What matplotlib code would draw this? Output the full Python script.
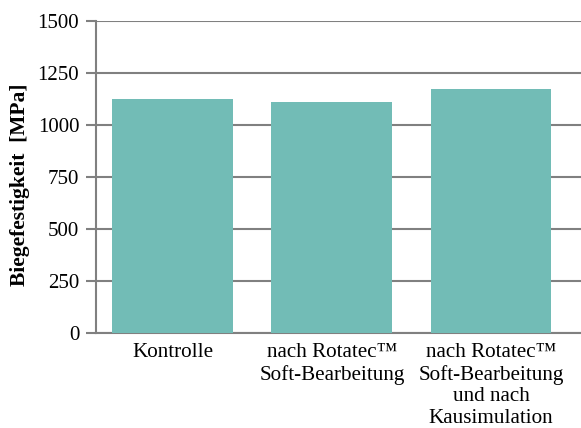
import matplotlib
matplotlib.use("Agg")
import matplotlib.pyplot as plt

categories = ["Kontrolle", "nach Rotatec\u2122\nSoft-Bearbeitung",
              "nach Rotatec\u2122\nSoft-Bearbeitung\nund nach\nKausimulation"]
values = [1125, 1110, 1173]
yticks = [0, 250, 500, 750, 1000, 1250, 1500]

plt.rcParams['font.family'] = ['Liberation Serif', 'DejaVu Serif']

fig = plt.figure(figsize=(5.81, 4.28), dpi=100)
ax = fig.add_axes([0.165, 0.222, 0.835, 0.729])
grid_c = '#808080'
ax.bar(range(len(values)), values, width=0.76, color='#72BCB6', zorder=3)
ax.set_ylim(0, 1500)
ax.set_xlim(-0.484, 2.566)
ax.set_yticks(yticks)
ax.set_yticklabels([str(v) for v in yticks], fontsize=15)
ax.set_xticks(range(len(values)))
ax.set_xticklabels(categories, fontsize=15.2, linespacing=1.2)
ax.tick_params(axis='x', length=0, pad=7)
ax.tick_params(axis='y', length=7, width=1.5, color=grid_c, pad=5)
ax.yaxis.grid(True, color=grid_c, linewidth=1.5, zorder=0)
ax.set_axisbelow(True)
for s in ['top', 'right']:
    ax.spines[s].set_visible(False)
for s in ['left', 'bottom']:
    ax.spines[s].set_color(grid_c)
    ax.spines[s].set_linewidth(1.5)
ax.set_ylabel("Biegefestigkeit  [MPa]", fontsize=15.5, fontweight='bold')
ax.yaxis.set_label_coords(-0.135, 0.474)
fig.savefig("out.png", dpi=100)
